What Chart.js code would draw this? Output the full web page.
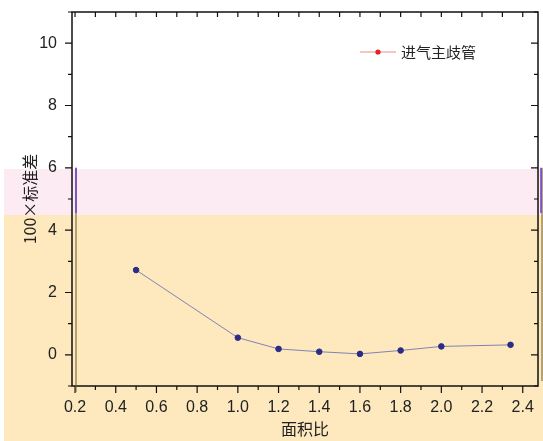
<!DOCTYPE html>
<html>
<head>
<meta charset="utf-8">
<script src="https://cdn.jsdelivr.net/npm/chart.js@4"></script>
<style>
  html, body { margin: 0; padding: 0; background: #fff; }
  #wrap { width: 543px; height: 441px; }
</style>
</head>
<body>
<div id="wrap"><canvas id="chart"></canvas></div>
<script>
const areaRatio = [0.5, 1.0, 1.2, 1.4, 1.6, 1.8, 2.0, 2.34];
const stdDev100 = [2.72, 0.55, 0.19, 0.1, 0.03, 0.14, 0.27, 0.32];
const xTickLabels = [0.2, 0.4, 0.6, 0.8, 1.0, 1.2, 1.4, 1.6, 1.8, 2.0, 2.2, 2.4];
const yTickLabels = [0, 2, 4, 6, 8, 10];
const seriesName = '进气主歧管';

const FONT = '"Liberation Sans", Arial, sans-serif';
const CJK = '"Noto Sans CJK SC", "Liberation Sans", sans-serif';

// backdrop bands, frame, ticks and legend
const decor = {
  id: 'decor',
  beforeDraw(chart) {
    const ctx = chart.ctx;
    ctx.save();
    ctx.fillStyle = '#ffffff';
    ctx.fillRect(0, 0, chart.width, chart.height);
    ctx.fillStyle = '#fcebf3';
    ctx.fillRect(4, 169, chart.width - 4, 46);
    ctx.fillStyle = '#fde9bd';
    ctx.fillRect(4, 215, chart.width - 4, chart.height - 215);
    ctx.restore();
  },
  afterDraw(chart) {
    const ctx = chart.ctx;
    const a = chart.chartArea;
    const xs = chart.scales.x, ys = chart.scales.y;
    ctx.save();
    ctx.strokeStyle = '#111';
    ctx.lineWidth = 1.5;
    ctx.strokeRect(a.left, a.top, a.right - a.left, a.bottom - a.top);
    ctx.lineWidth = 1.2;
    ctx.beginPath();
    for (let i = 2; i <= 24; i++) {
      const px = xs.getPixelForValue(i / 10);
      const len = i % 2 === 0 ? 7 : 4;
      ctx.moveTo(px, a.bottom); ctx.lineTo(px, a.bottom + len);
      ctx.moveTo(px, a.top); ctx.lineTo(px, a.top + 5);
    }
    for (let v = -1; v <= 11; v++) {
      const py = ys.getPixelForValue(v);
      const len = v % 2 === 0 ? 7 : 4;
      ctx.moveTo(a.left, py); ctx.lineTo(a.left - len, py);
      ctx.moveTo(a.right, py); ctx.lineTo(a.right - len, py);
    }
    ctx.stroke();
    // overlay ghost lines
    ctx.strokeStyle = '#6b5a2a';
    ctx.lineWidth = 1;
    ctx.beginPath();
    ctx.moveTo(a.left + 4, ys.getPixelForValue(6)); ctx.lineTo(a.left + 4, a.bottom + 6);
    ctx.moveTo(a.right + 4, ys.getPixelForValue(6)); ctx.lineTo(a.right + 4, chart.height - 60);
    ctx.stroke();
    ctx.strokeStyle = '#6a3fc8';
    ctx.lineWidth = 1.5;
    ctx.beginPath();
    ctx.moveTo(a.left + 4, ys.getPixelForValue(6)); ctx.lineTo(a.left + 4, 213);
    ctx.moveTo(a.right + 3, ys.getPixelForValue(6)); ctx.lineTo(a.right + 3, 213);
    ctx.stroke();
    // legend
    const ly = 52;
    ctx.strokeStyle = '#f08a8a';
    ctx.lineWidth = 1.2;
    ctx.beginPath();
    ctx.moveTo(360, ly); ctx.lineTo(396, ly);
    ctx.stroke();
    ctx.fillStyle = '#e02222';
    ctx.beginPath();
    ctx.arc(378, ly, 2.6, 0, Math.PI * 2);
    ctx.fill();
    ctx.fillStyle = '#222';
    ctx.font = '15px ' + CJK;
    ctx.textBaseline = 'middle';
    ctx.fillText(seriesName, 401, ly);
    ctx.restore();
  }
};

new Chart(document.getElementById('chart'), {
  type: 'line',
  data: {
    datasets: [{
      label: seriesName,
      data: areaRatio.map((x, i) => ({ x: x, y: stdDev100[i] })),
      borderColor: '#8282b4',
      borderWidth: 1,
      pointBackgroundColor: '#2c2c86',
      pointBorderColor: '#2c2c86',
      pointRadius: 2.8,
      tension: 0
    }]
  },
  options: {
    responsive: true,
    maintainAspectRatio: false,
    animation: false,
    layout: { padding: { top: 12, right: 5, left: 0, bottom: 0 } },
    plugins: { legend: { display: false }, tooltip: { enabled: false } },
    scales: {
      x: {
        type: 'linear',
        min: 0.185,
        max: 2.475,
        afterBuildTicks: s => { s.ticks = xTickLabels.map(v => ({ value: v })); },
        afterFit: s => { s.height = 55; },
        grid: { display: false },
        border: { display: false },
        ticks: {
          autoSkip: false,
          maxRotation: 0,
          padding: 4,
          color: '#222',
          font: { family: FONT, size: 16 },
          callback: v => Number(v).toFixed(1)
        },
        title: {
          display: true,
          text: '面积比',
          color: '#222',
          font: { family: CJK, size: 16 },
          padding: { top: 0, bottom: 2 }
        }
      },
      y: {
        type: 'linear',
        min: -1,
        max: 11,
        afterBuildTicks: s => { s.ticks = yTickLabels.map(v => ({ value: v })); },
        afterFit: s => { s.width = 72; s.paddingTop = 0; s.paddingBottom = 0; },
        grid: { display: false },
        border: { display: false },
        ticks: {
          autoSkip: false,
          padding: 7,
          color: '#222',
          font: { family: FONT, size: 16 }
        },
        title: {
          display: true,
          text: '100×标准差',
          color: '#222',
          font: { family: CJK, size: 16 },
          padding: { top: 20, bottom: 0 }
        }
      }
    }
  },
  plugins: [decor]
});
</script>
</body>
</html>
